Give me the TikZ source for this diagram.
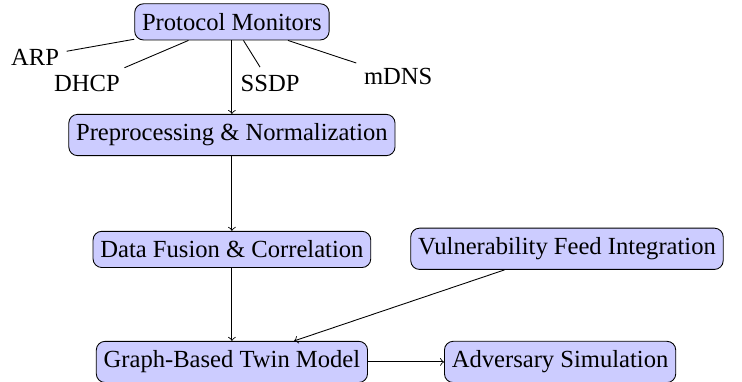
\documentclass[tikz,border=0pt]{standalone}
\usepackage{fontspec}
\setmainfont{Liberation Serif}
\tikzset{
  block/.style={shape=rectangle,rounded corners,draw=black,fill=blue!20,inner ysep=4.3pt},
  proto/.style={shape=rectangle}
}
\begin{document}
\begin{tikzpicture}[font=\fontsize{11.2}{13.4}\selectfont]
  \useasboundingbox (0,0) rectangle (11.87,-6.10);
  \node[block] (pm) at (3.71,-0.35) {Protocol Monitors};
  \node[proto] (arp) at (0.56,-0.91) {ARP};
  \node[proto] (dhcp) at (1.39,-1.34) {DHCP};
  \node[proto] (ssdp) at (4.32,-1.33) {SSDP};
  \node[proto] (mdns) at (6.37,-1.23) {mDNS};
  \node[block] (pre) at (3.71,-2.16) {Preprocessing \& Normalization};
  \node[block] (fusion) at (3.71,-3.99) {Data Fusion \& Correlation};
  \node[block] (vuln) at (9.07,-3.98) {Vulnerability Feed Integration};
  \node[block] (twin) at (3.71,-5.79) {Graph-Based Twin Model};
  \node[block] (adv) at (8.96,-5.79) {Adversary Simulation};
  \path [-](pm) edge (arp);
  \path [-](pm) edge (dhcp);
  \path [-](pm) edge (ssdp);
  \path [-](pm) edge (mdns);
  \path [->](pm) edge (pre);
  \path [->](pre) edge (fusion);
  \path [->](fusion) edge (twin);
  \path [->](vuln) edge (twin);
  \path [->](twin) edge (adv);
\end{tikzpicture}
\end{document}
